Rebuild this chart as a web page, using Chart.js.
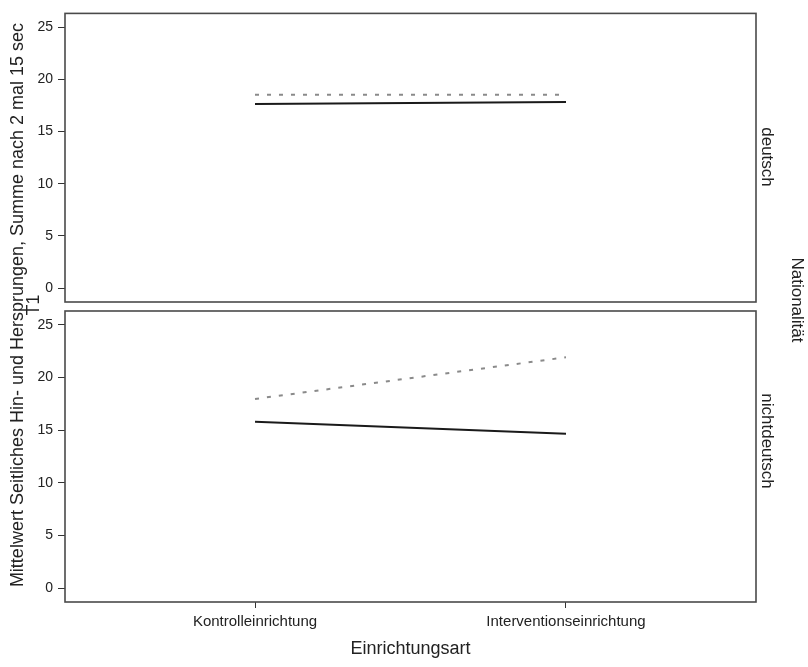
<!DOCTYPE html>
<html lang="de">
<head>
<meta charset="UTF-8">
<title>Einrichtungsart x Nationalität</title>
<script src="https://cdn.jsdelivr.net/npm/chart.js"></script>
<style>
  html, body { margin: 0; padding: 0; background: #fff; }
  #wrap { position: relative; width: 808px; height: 667px; }
  #wrap canvas { position: absolute; left: 0; top: 0; }
</style>
</head>
<body>
<div id="wrap">
  <canvas id="topChart" width="808" height="667"></canvas>
  <canvas id="bottomChart" width="808" height="667"></canvas>
</div>
<script>
// values
const categories = ['Kontrolleinrichtung', 'Interventionseinrichtung'];
const panelNames = ['deutsch', 'nichtdeutsch'];
const deutschSolid = [17.65, 17.84];
const deutschDotted = [18.54, 18.54];
const nichtdeutschSolid = [15.81, 14.67];
const nichtdeutschDotted = [17.97, 21.93];
const yTicks = [0, 5, 10, 15, 20, 25];

const yTitle = ['Mittelwert Seitliches Hin- und Hersprungen, Summe nach 2 mal 15 sec', 'T1'];
const xTitle = 'Einrichtungsart';
const panelTitle = 'Nationalität';

const FONT = '"Liberation Sans", Arial, sans-serif';
const TEXT = '#222';
const FRAME = '#4a4a4a';

function points(values) {
  return values.map((v, i) => ({ x: i, y: v }));
}

function datasets(solid, dotted) {
  return [
    { label: 'solid', data: points(solid), borderColor: '#1a1a1a', borderWidth: 2, pointRadius: 0, tension: 0 },
    { label: 'dotted', data: points(dotted), borderColor: '#8a8a8a', borderWidth: 2, borderDash: [4, 8], pointRadius: 0, tension: 0 }
  ];
}

// frame around the panel + rotated text on the sides
function panelPlugin(label, labelY, extra) {
  return {
    id: 'panel',
    afterDraw(chart) {
      const { ctx, chartArea: a } = chart;
      ctx.save();
      ctx.strokeStyle = FRAME;
      ctx.lineWidth = 1.6;
      ctx.strokeRect(a.left, a.top, a.right - a.left, a.bottom - a.top);
      ctx.fillStyle = TEXT;
      ctx.font = '17px ' + FONT;
      ctx.textAlign = 'center';
      ctx.textBaseline = 'middle';
      ctx.translate(767, labelY);
      ctx.rotate(Math.PI / 2);
      ctx.fillText(label, 0, 0);
      ctx.restore();
      if (extra) extra(ctx);
    }
  };
}

function sharedText(ctx) {
  ctx.save();
  ctx.fillStyle = TEXT;
  ctx.textAlign = 'center';
  ctx.textBaseline = 'middle';
  ctx.font = '18px ' + FONT;
  ctx.translate(18, 305);
  ctx.rotate(-Math.PI / 2);
  ctx.fillText(yTitle[0], 0, 0);
  ctx.fillText(yTitle[1], 0, 16);
  ctx.restore();

  ctx.save();
  ctx.fillStyle = TEXT;
  ctx.textAlign = 'center';
  ctx.textBaseline = 'middle';
  ctx.font = '17px ' + FONT;
  ctx.translate(797, 300);
  ctx.rotate(Math.PI / 2);
  ctx.fillText(panelTitle, 0, 0);
  ctx.restore();
}

function yScale() {
  return {
    min: -1.33,
    max: 26.33,
    afterFit(scale) { scale.width = 65; },
    afterBuildTicks(scale) { scale.ticks = yTicks.map(v => ({ value: v })); },
    grid: { drawOnChartArea: false, tickLength: 7, color: '#333' },
    border: { display: false },
    ticks: { padding: 5, color: TEXT, font: { family: FONT, size: 14 } }
  };
}

function options(padding, showX) {
  return {
    responsive: false,
    animation: false,
    events: [],
    devicePixelRatio: 1,
    layout: { padding: padding },
    plugins: { legend: { display: false }, tooltip: { enabled: false } },
    scales: {
      x: {
        type: 'linear',
        min: -0.611,
        max: 1.611,
        display: showX,
        afterFit(scale) { scale.height = showX ? 65 : 0; },
        afterBuildTicks(scale) { scale.ticks = categories.map((c, i) => ({ value: i })); },
        grid: { drawOnChartArea: false, tickLength: 6, color: '#333' },
        border: { display: false },
        ticks: {
          padding: 5,
          maxRotation: 0,
          color: TEXT,
          font: { family: FONT, size: 15 },
          callback: v => categories[v]
        },
        title: {
          display: true,
          text: xTitle,
          color: TEXT,
          font: { family: FONT, size: 18 },
          padding: { top: 0, bottom: 7 }
        }
      },
      y: yScale()
    }
  };
}

new Chart(document.getElementById('topChart'), {
  type: 'line',
  data: { datasets: datasets(deutschSolid, deutschDotted) },
  options: options({ left: 0, top: 11, right: 52, bottom: 667 - 302 }, false),
  plugins: [panelPlugin(panelNames[0], 157, sharedText)]
});

new Chart(document.getElementById('bottomChart'), {
  type: 'line',
  data: { datasets: datasets(nichtdeutschSolid, nichtdeutschDotted) },
  options: options({ left: 0, top: 311, right: 52, bottom: 0 }, true),
  plugins: [panelPlugin(panelNames[1], 441)]
});
</script>
</body>
</html>
